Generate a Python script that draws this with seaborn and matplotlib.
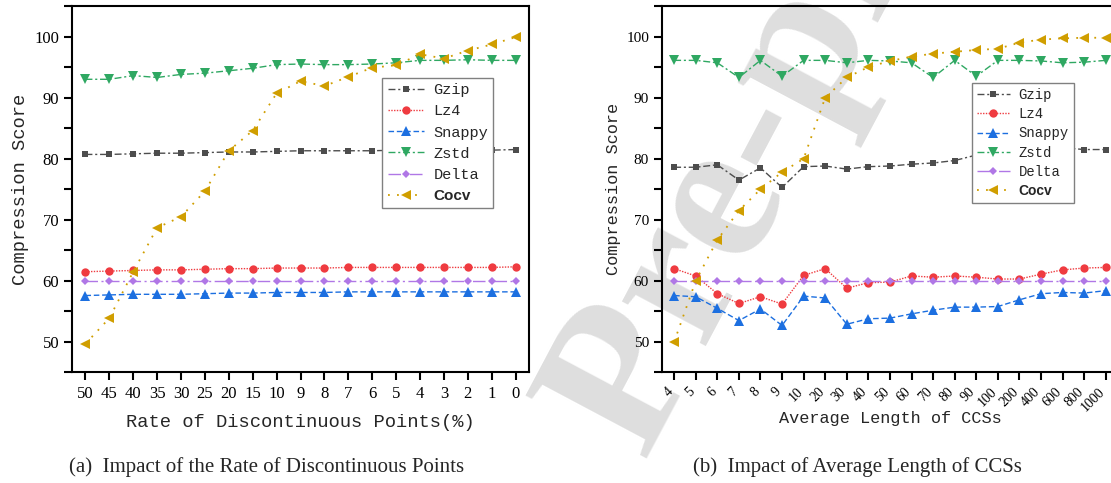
import numpy as np
import pandas as pd
import matplotlib
matplotlib.use('Agg')
import matplotlib.pyplot as plt
import matplotlib.transforms as mtransforms
import seaborn as sns
from matplotlib.ticker import MultipleLocator

# (a) rate of discontinuous points
rate_labels = ['50', '45', '40', '35', '30', '25', '20', '15', '10', '9',
               '8', '7', '6', '5', '4', '3', '2', '1', '0']
rate_gzip = [80.7, 80.7, 80.8, 80.9, 80.9, 81.0, 81.1, 81.1, 81.2, 81.3,
             81.3, 81.3, 81.3, 81.4, 81.4, 81.4, 81.4, 81.4, 81.5]
rate_lz4 = [61.5, 61.6, 61.7, 61.8, 61.8, 61.9, 62.0, 62.0, 62.1, 62.1,
            62.1, 62.2, 62.2, 62.2, 62.2, 62.2, 62.2, 62.2, 62.3]
rate_snappy = [57.6, 57.7, 57.8, 57.8, 57.8, 57.9, 58.0, 58.0, 58.1, 58.1,
               58.1, 58.2, 58.2, 58.2, 58.2, 58.2, 58.2, 58.2, 58.2]
rate_zstd = [93.0, 93.0, 93.6, 93.3, 93.8, 94.0, 94.4, 94.8, 95.4, 95.5,
             95.4, 95.4, 95.5, 95.7, 96.1, 96.1, 96.2, 96.1, 96.1]
rate_delta = [60.0] * 19
rate_cocv = [49.7, 53.9, 61.5, 68.7, 70.5, 74.7, 81.3, 84.6, 90.7, 92.7,
             91.9, 93.4, 94.9, 95.3, 97.1, 96.4, 97.7, 98.7, 99.9]

# (b) average length of CCSs
len_labels = ['4', '5', '6', '7', '8', '9', '10', '20', '30', '40', '50',
              '60', '70', '80', '90', '100', '200', '400', '600', '800', '1000']
len_gzip = [78.6, 78.6, 79.0, 76.5, 78.5, 75.3, 78.7, 78.8, 78.3, 78.7, 78.8,
            79.1, 79.3, 79.7, 80.6, 79.0, 79.5, 82.2, 81.8, 81.5, 81.5]
len_lz4 = [62.0, 60.8, 57.9, 56.3, 57.4, 56.2, 60.9, 62.0, 58.8, 59.7, 59.8,
           60.8, 60.6, 60.8, 60.6, 60.3, 60.3, 61.1, 61.8, 62.1, 62.2]
len_snappy = [57.6, 57.4, 55.5, 53.5, 55.4, 52.7, 57.5, 57.2, 52.9, 53.8, 53.9,
              54.6, 55.2, 55.7, 55.7, 55.8, 56.9, 57.9, 58.1, 58.0, 58.4]
len_zstd = [96.1, 96.1, 95.7, 93.3, 96.1, 93.5, 96.1, 96.1, 95.7, 96.1, 96.0,
            95.7, 93.3, 96.1, 93.5, 96.1, 96.1, 96.0, 95.7, 95.8, 96.1]
len_delta = [60.0] * 21
len_cocv = [50.0, 60.0, 66.7, 71.5, 75.0, 77.8, 80.0, 90.0, 93.3, 95.0, 96.0,
            96.7, 97.2, 97.5, 97.8, 98.0, 99.0, 99.5, 99.7, 99.8, 99.8]

names = ['Gzip', 'Lz4', 'Snappy', 'Zstd', 'Delta', 'Cocv']
styles = {
    'Gzip': dict(color='#4d4d4d', marker='s', linestyle=(0, (5, 2, 1.5, 2))),
    'Lz4': dict(color='#ef3b40', marker='o', linestyle=(0, (1, 1))),
    'Snappy': dict(color='#1c6fe0', marker='^', linestyle=(0, (4, 2))),
    'Zstd': dict(color='#2fa862', marker='v', linestyle=(0, (5, 2, 1.5, 2))),
    'Delta': dict(color='#b077e6', marker='D', linestyle=(0, (9, 2.5, 1.5, 2.5))),
    'Cocv': dict(color='#d09e00', marker='<', linestyle=(0, (1, 4))),
}
msize = {'Gzip': 5, 'Lz4': 6, 'Snappy': 6.5, 'Zstd': 6.5, 'Delta': 4.5, 'Cocv': 7}

sns.set_theme(style='ticks')
plt.rcParams['font.family'] = ['Liberation Serif', 'DejaVu Sans']
mono = 'Liberation Mono'

fig = plt.figure(figsize=(11.11, 4.83), dpi=100)

# watermark
fig.text(643 / 1111, 1 - 459 / 483, 'Pre-proof', rotation=62, rotation_mode='anchor',
         ha='left', va='baseline', fontsize=150, fontweight='bold',
         family='Liberation Serif', color='#dedede', zorder=-5)

ax1 = fig.add_axes([0.0651, 0.2288, 0.4108, 0.7588])
ax2 = fig.add_axes([0.5961, 0.2288, 0.4099, 0.7588])


def draw(ax, labels, series, lab_size, tick_size, leg_size, leg_pos, spacing):
    ax.patch.set_alpha(0)
    x = np.arange(len(labels))
    for name, vals in zip(names, series):
        st = styles[name]
        lw = 1.3 if name == 'Cocv' else 1.0
        sns.lineplot(x=x, y=vals, ax=ax, color=st['color'], marker=st['marker'],
                     linestyle=st['linestyle'], linewidth=lw, markersize=msize[name],
                     markeredgewidth=0, label=name, errorbar=None, legend=False)
    ax.set_xlim(-0.55, len(labels) - 0.45)
    ax.set_ylim(45, 105)
    ax.yaxis.set_major_locator(MultipleLocator(10))
    ax.yaxis.set_minor_locator(MultipleLocator(5))
    ax.set_yticks([50, 60, 70, 80, 90, 100])
    ax.set_xticks(x)
    for sp in ax.spines.values():
        sp.set_linewidth(1.5)
        sp.set_color('black')
    ax.tick_params(axis='both', which='both', direction='out', length=6, width=1.5,
                   colors='black', labelsize=tick_size)
    ax.set_ylabel('Compression Score', family=mono, fontsize=lab_size, labelpad=4)
    h, l = ax.get_legend_handles_labels()
    leg = ax.legend(h, l, loc='upper left', bbox_to_anchor=leg_pos, frameon=True,
                    fancybox=False, edgecolor='#808080', framealpha=1,
                    prop={'family': mono, 'size': leg_size}, handlelength=2.4,
                    handletextpad=0.6, labelspacing=spacing, borderpad=0.35,
                    borderaxespad=0)
    leg.get_frame().set_linewidth(1.0)
    t = leg.get_texts()[-1]
    t.set_fontfamily('Liberation Sans')
    t.set_fontweight('bold')
    return x


draw(ax1, rate_labels,
     [rate_gzip, rate_lz4, rate_snappy, rate_zstd, rate_delta, rate_cocv],
     13.5, 12, 11, (0.679, 0.804), 0.47)
ax1.set_xticklabels(rate_labels)
ax1.set_xlabel('Rate of Discontinuous Points(%)', family=mono, fontsize=13.5, labelpad=9)

draw(ax2, len_labels,
     [len_gzip, len_lz4, len_snappy, len_zstd, len_delta, len_cocv],
     12.2, 11, 10, (0.680, 0.790), 0.38)
ax2.set_xticklabels(len_labels, rotation=45, ha='right', va='center',
                    rotation_mode='anchor', fontsize=10)
shift = mtransforms.ScaledTranslation(-3 / 100, -4 / 100, fig.dpi_scale_trans)
for lab in ax2.get_xticklabels():
    lab.set_transform(lab.get_transform() + shift)
ax2.set_xlabel('Average Length of CCSs', family=mono, fontsize=12.2, labelpad=-2)

fig.text(267 / 1111, 1 - 467 / 483, '(a)  Impact of the Rate of Discontinuous Points',
         ha='center', va='center', fontsize=15, family='Liberation Serif')
fig.text(857 / 1111, 1 - 467 / 483, '(b)  Impact of Average Length of CCSs',
         ha='center', va='center', fontsize=15, family='Liberation Serif')

fig.savefig('out.png', dpi=100)
